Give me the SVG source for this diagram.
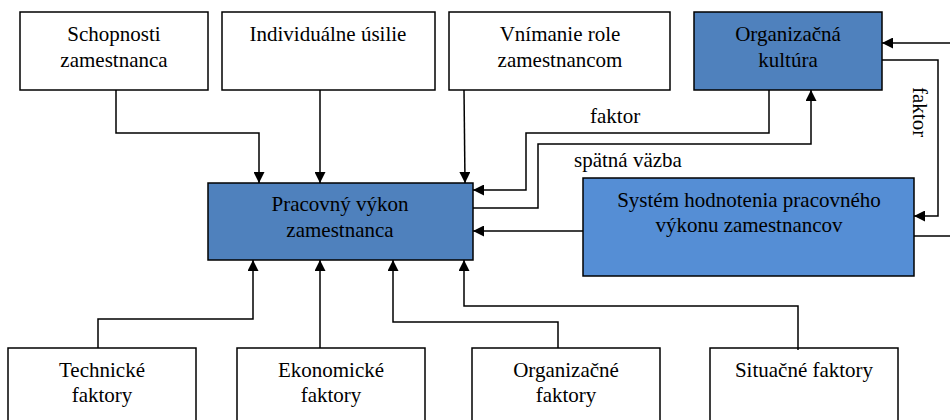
<svg xmlns="http://www.w3.org/2000/svg" width="950" height="420" viewBox="0 0 950 420">
<style>
.box{fill:#ffffff;stroke:#000;stroke-width:1.5}
.dark{fill:#4f81bd;stroke:#000;stroke-width:1.5}
.light{fill:#558ed5;stroke:#000;stroke-width:1.5}
text{font-family:"Liberation Serif","Times New Roman",serif;font-size:21px;fill:#000}
.c{text-anchor:middle}
.ln{fill:none;stroke:#000;stroke-width:1.5}
</style>
<defs>
<marker id="arr" viewBox="0 0 10 10" refX="10" refY="5" markerWidth="11" markerHeight="11" orient="auto" markerUnits="userSpaceOnUse">
<path d="M0,0 L10,5 L0,10 z" fill="#000"/>
</marker>
</defs>
<rect width="950" height="420" fill="#fff"/>
<g id="schopnosti"><rect class="box" x="20" y="12" width="188" height="78"/><text class="c" x="114" y="41">Schopnosti</text><text class="c" x="114" y="67">zamestnanca</text></g>
<g id="usilie"><rect class="box" x="222" y="12" width="213" height="78"/><text class="c" x="328" y="41">Individuálne úsilie</text></g>
<g id="vnimanie"><rect class="box" x="449" y="12" width="221" height="78"/><text class="c" x="560" y="41">Vnímanie role</text><text class="c" x="560" y="67">zamestnancom</text></g>
<g id="kultura"><rect class="dark" x="694" y="12" width="188" height="78"/><text class="c" x="788" y="41">Organizačná</text><text class="c" x="788" y="67">kultúra</text></g>
<g id="vykon"><rect class="dark" x="208" y="183" width="265" height="77"/><text class="c" x="340" y="211">Pracovný výkon</text><text class="c" x="340" y="237">zamestnanca</text></g>
<g id="system"><rect class="light" x="583" y="178" width="331" height="98"/><text class="c" x="749" y="207">Systém hodnotenia pracovného</text><text class="c" x="749" y="232">výkonu zamestnancov</text></g>
<g id="technicke"><rect class="box" x="8" y="348" width="188" height="80"/><text class="c" x="102" y="377">Technické</text><text class="c" x="102" y="402">faktory</text></g>
<g id="ekonomicke"><rect class="box" x="237" y="348" width="188" height="80"/><text class="c" x="331" y="377">Ekonomické</text><text class="c" x="331" y="402">faktory</text></g>
<g id="organizacne"><rect class="box" x="472" y="348" width="188" height="80"/><text class="c" x="566" y="377">Organizačné</text><text class="c" x="566" y="402">faktory</text></g>
<g id="situacne"><rect class="box" x="710" y="348" width="188" height="80"/><text class="c" x="804" y="377">Situačné faktory</text></g>
<g id="connectors">
<path class="ln" d="M116,90 V133 H259 V183" marker-end="url(#arr)"/>
<path class="ln" d="M320,90 V183" marker-end="url(#arr)"/>
<path class="ln" d="M464,90 L465,183" marker-end="url(#arr)"/>
<path class="ln" d="M769,90 V133 H526 V190 H473" marker-end="url(#arr)"/>
<path class="ln" d="M473,208 H538 V144 H811 V90" marker-end="url(#arr)"/>
<path class="ln" d="M583,231 H473" marker-end="url(#arr)"/>
<path class="ln" d="M914,236 H950"/>
<path class="ln" d="M950,43 H882" marker-end="url(#arr)"/>
<path class="ln" d="M882,60 H938 V216 H914" marker-end="url(#arr)"/>
<path class="ln" d="M98,348 V319 H253 V260" marker-end="url(#arr)"/>
<path class="ln" d="M320,348 V260" marker-end="url(#arr)"/>
<path class="ln" d="M558,348 V322 H393 V260" marker-end="url(#arr)"/>
<path class="ln" d="M798,350 V306 H464 V260" marker-end="url(#arr)"/>
<text x="590" y="123">faktor</text>
<text x="574" y="167">spätná väzba</text>
<text transform="translate(913,87) rotate(90)">faktor</text>
</g>
</svg>
